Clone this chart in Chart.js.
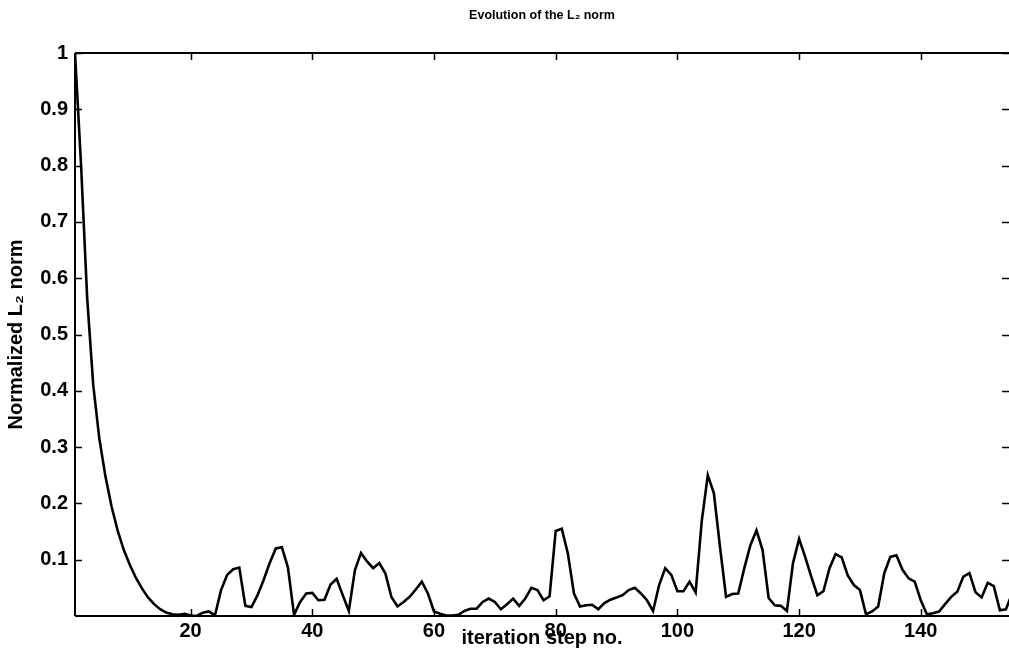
<!DOCTYPE html>
<html>
<head>
<meta charset="utf-8">
<script src="https://cdn.jsdelivr.net/npm/chart.js@4/dist/chart.umd.min.js"></script>
<style>
html,body{margin:0;padding:0;background:#fff;}
#wrap{width:1009px;height:666px;}
</style>
</head>
<body>
<div id="wrap"><canvas id="c" width="1009" height="666"></canvas></div>
<script>
const chartTitle = "Evolution of the L\u2082 norm";
const xAxisTitle = "iteration step no.";
const yAxisTitle = "Normalized L\u2082 norm";
const xTicks = [20, 40, 60, 80, 100, 120, 140];
const yTicks = [0.1, 0.2, 0.3, 0.4, 0.5, 0.6, 0.7, 0.8, 0.9, 1];
const xRange = [1, 154.5];
const yRange = [0, 1];
const normValues = [
  1.000, 0.800, 0.565, 0.410, 0.315, 0.248, 0.195, 0.152, 0.118, 0.091,
  0.068, 0.049, 0.033, 0.021, 0.012, 0.006, 0.003, 0.002, 0.004, 0.001,
  0.000, 0.006, 0.008, 0.001, 0.046, 0.073, 0.083, 0.086, 0.018, 0.016,
  0.037, 0.064, 0.094, 0.120, 0.122, 0.086, 0.002, 0.025, 0.040, 0.041,
  0.028, 0.029, 0.056, 0.066, 0.037, 0.009, 0.081, 0.112, 0.097, 0.085,
  0.094, 0.076, 0.034, 0.017, 0.025, 0.034, 0.047, 0.061, 0.040, 0.008,
  0.004, 0.001, 0.001, 0.002, 0.009, 0.013, 0.013, 0.025, 0.031, 0.025,
  0.012, 0.021, 0.031, 0.018, 0.031, 0.050, 0.046, 0.028, 0.035, 0.151,
  0.155, 0.111, 0.040, 0.017, 0.019, 0.020, 0.012, 0.023, 0.029, 0.033,
  0.037, 0.046, 0.050, 0.040, 0.028, 0.009, 0.055, 0.085, 0.073, 0.044,
  0.044, 0.061, 0.042, 0.168, 0.250, 0.218, 0.123, 0.034, 0.039, 0.040,
  0.085, 0.126, 0.152, 0.117, 0.032, 0.019, 0.018, 0.009, 0.094, 0.137,
  0.105, 0.070, 0.037, 0.044, 0.085, 0.110, 0.104, 0.072, 0.055, 0.046,
  0.003, 0.008, 0.017, 0.076, 0.105, 0.108, 0.082, 0.067, 0.061, 0.028,
  0.003, 0.005, 0.008, 0.021, 0.034, 0.043, 0.070, 0.076, 0.042, 0.033,
  0.059, 0.053, 0.010, 0.012, 0.040
];

const points = normValues.map((v, i) => ({ x: i + 1, y: v }));
const FONT = "'Liberation Sans', Arial, Helvetica, sans-serif";

const framePlugin = {
  id: 'frame',
  afterDraw(chart) {
    const ctx = chart.ctx;
    const a = chart.chartArea;
    const xs = chart.scales.x, ys = chart.scales.y;
    ctx.save();
    ctx.strokeStyle = '#000';
    ctx.lineWidth = 1.5;
    ctx.beginPath();
    yTicks.forEach(v => {
      const y = Math.round(ys.getPixelForValue(v)) + 0.5;
      ctx.moveTo(a.left, y); ctx.lineTo(a.left + 7, y);
      ctx.moveTo(a.right, y); ctx.lineTo(a.right - 7, y);
    });
    xTicks.forEach(v => {
      const x = Math.round(xs.getPixelForValue(v)) + 0.5;
      ctx.moveTo(x, a.bottom); ctx.lineTo(x, a.bottom - 7);
      ctx.moveTo(x, a.top); ctx.lineTo(x, a.top + 7);
    });
    ctx.stroke();
    ctx.lineWidth = 2;
    ctx.beginPath();
    ctx.moveTo(a.left, a.top); ctx.lineTo(a.right, a.top);
    ctx.moveTo(a.left, a.top); ctx.lineTo(a.left, a.bottom);
    ctx.moveTo(a.left, a.bottom); ctx.lineTo(a.right, a.bottom);
    ctx.stroke();
    ctx.restore();
  }
};

new Chart(document.getElementById('c'), {
  type: 'line',
  data: {
    datasets: [{
      data: points,
      borderColor: '#000',
      borderWidth: 2.6,
      pointRadius: 0,
      tension: 0,
      fill: false
    }]
  },
  options: {
    responsive: false,
    animation: false,
    devicePixelRatio: 1,
    layout: { padding: { left: 0, right: 0, top: 0, bottom: 0 } },
    plugins: {
      legend: { display: false },
      tooltip: { enabled: false },
      title: {
        display: true,
        fullSize: false,
        text: chartTitle,
        color: '#000',
        font: { family: FONT, size: 12.5, weight: 'bold', lineHeight: 1.2 },
        padding: { top: 8, bottom: 30 }
      }
    },
    scales: {
      x: {
        type: 'linear',
        min: xRange[0],
        max: xRange[1],
        afterBuildTicks: s => { s.ticks = xTicks.map(v => ({ value: v })); },
        afterFit: s => { s.height = 50; },
        grid: { display: false, drawTicks: false },
        border: { display: false },
        ticks: {
          color: '#000',
          padding: 3,
          maxRotation: 0,
          autoSkip: false,
          font: { family: FONT, size: 20, weight: 'bold' },
          callback: v => String(v)
        },
        title: {
          display: true,
          text: xAxisTitle,
          color: '#000',
          font: { family: FONT, size: 20, weight: 'bold', lineHeight: 1.2 },
          padding: { top: 0, bottom: 16 }
        }
      },
      y: {
        type: 'linear',
        min: yRange[0],
        max: yRange[1],
        afterBuildTicks: s => { s.ticks = yTicks.map(v => ({ value: v })); },
        afterFit: s => { s.width = 75; },
        grid: { display: false, drawTicks: false },
        border: { display: false },
        ticks: {
          color: '#000',
          padding: 7,
          autoSkip: false,
          font: { family: FONT, size: 20, weight: 'bold' },
          callback: v => (Math.round(v * 10) / 10).toString()
        },
        title: {
          display: true,
          text: yAxisTitle,
          color: '#000',
          font: { family: FONT, size: 20, weight: 'bold', lineHeight: 1.2 },
          padding: { top: 4, bottom: 0 }
        }
      }
    }
  },
  plugins: [framePlugin]
});
</script>
</body>
</html>
